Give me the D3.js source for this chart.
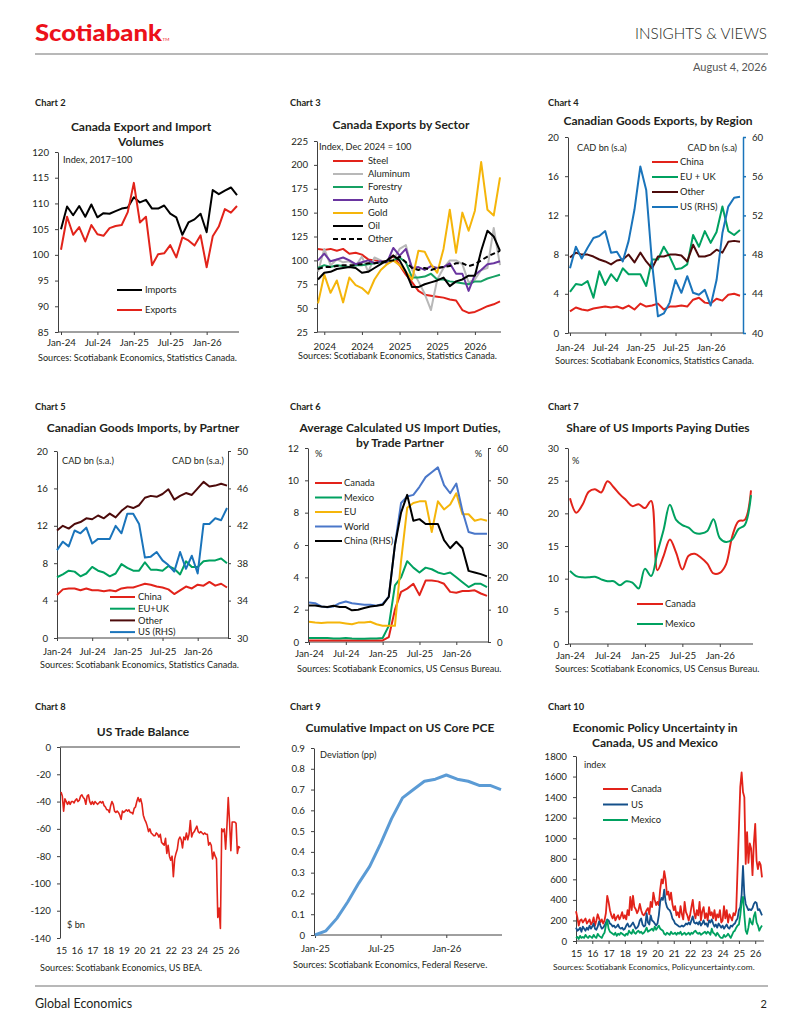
<!DOCTYPE html>
<html>
<head>
<meta charset="utf-8">
<script src="https://cdn.jsdelivr.net/npm/d3@7"></script>
<style>
body { margin: 0; background: #fff; }
text { font-family: Lato, "Open Sans", sans-serif; fill: #231f20; }
.axis text { font-size: 9.7px; }
.axis path, .axis line { stroke: #404040; }
</style>
</head>
<body>
<script>
// Data // ----------------------------------------------------------------------
// 30-month charts: Jan-24 .. Jun-26
var monthTicks = ["Jan-24", "Jul-24", "Jan-25", "Jul-25", "Jan-26"];
var yearTicks3 = ["2024", "2024", "2025", "2025", "2026"];

// Chart 2
var c2Imports = [105, 109.4, 107.7, 109.5, 107.4, 109.8, 107.3, 108.1, 108, 108.5, 109, 109.2, 111.2, 110.2, 110.7, 109, 109, 109.6, 108, 107.3, 103.9, 106.3, 106.9, 108, 104.4, 112.6, 111.8, 112.5, 113.1, 111.6];
var c2Exports = [101, 107.4, 103.9, 105.4, 102.6, 105.8, 104, 103.7, 105.2, 105.6, 105.8, 108.3, 114, 106.3, 107.4, 98, 100.1, 100.3, 101.9, 99.5, 103.4, 102.8, 101.8, 103.8, 97.6, 103.6, 105.5, 108.9, 108.2, 109.5];

// Chart 3 (Dec-23 .. May-26)
var c3Steel = [112, 111, 112, 110, 112, 107, 108, 106, 101, 100, 99, 99, 105, 95, 85, 77, 68, 64, 63, 62, 61, 59, 58, 48, 45, 46, 49, 52, 54, 57];
var c3Aluminum = [88, 112, 95, 101, 98, 99, 94, 104, 88, 103, 100, 96, 100, 112, 116, 90, 78, 65, 48, 80, 92, 100, 100, 96, 77, 80, 90, 92, 134, 95];
var c3Forestry = [92, 95, 93, 95, 94, 93, 95, 95, 96, 97, 98, 99, 100, 103, 98, 82, 82, 83, 86, 80, 80, 78, 77, 76, 75, 78, 78, 81, 83, 85];
var c3Auto = [100, 107, 99, 101, 103, 100, 96, 98, 100, 97, 99, 98, 113, 105, 112, 92, 93, 90, 94, 92, 93, 97, 86, 86, 68, 85, 90, 96, 97, 99];
var c3Gold = [55, 85, 66, 79, 56, 82, 74, 71, 65, 80, 90, 96, 100, 95, 88, 80, 110, 109, 96, 87, 112, 153, 108, 150, 131, 152, 203, 153, 147, 187];
var c3Oil = [80, 87, 88, 91, 92, 93, 92, 87, 88, 92, 96, 100, 105, 100, 88, 72, 72, 75, 77, 79, 82, 73, 78, 80, 84, 84, 110, 131, 125, 110];
var c3Other = [91, 93, 93, 94, 95, 95, 95, 96, 97, 97, 98, 99, 100, 104, 98, 92, 90, 92, 90, 92, 93, 94, 97, 97, 94, 96, 100, 104, 107, 110];

// Chart 4
var c4China = [2.2, 2.6, 2.4, 2.3, 2.5, 2.6, 2.7, 2.6, 2.7, 2.5, 2.8, 2.4, 3.0, 2.7, 2.8, 3.0, 2.4, 2.7, 2.7, 2.8, 2.7, 3.4, 3.6, 3.1, 3.0, 3.5, 3.3, 3.9, 4.0, 3.8];
var c4EUUK = [4.2, 5.0, 4.9, 5.3, 3.6, 6.3, 4.9, 6.0, 5.3, 6.6, 6.0, 6.0, 6.0, 4.8, 7.5, 7.5, 8.8, 7.8, 6.5, 6.6, 7.0, 10.0, 8.8, 10.4, 9.2, 10.3, 12.9, 10.4, 10.0, 10.5];
var c4Other = [7.7, 8.2, 8.0, 8.0, 7.8, 7.5, 7.3, 7.0, 7.4, 7.5, 8.0, 7.2, 8.2, 7.3, 6.6, 7.8, 7.8, 8.0, 8.0, 7.9, 7.3, 9.0, 7.8, 7.8, 8.0, 8.5, 8.2, 9.3, 9.4, 9.3];
var c4US = [46.6, 48.8, 47.6, 48.7, 49.7, 49.9, 50.4, 48.2, 48.3, 47.3, 49.4, 52.6, 57.0, 54.6, 47.1, 41.7, 42.0, 43.1, 45.4, 44.1, 45.8, 44.1, 43.9, 44.4, 42.8, 45.4, 50.2, 52.9, 53.8, 53.9];

// Chart 5
var c5China = [4.6, 5.2, 5.3, 5.3, 5.1, 5.3, 5.1, 5.1, 5.0, 5.1, 5.0, 5.3, 5.4, 5.4, 5.6, 5.8, 5.7, 5.5, 5.4, 5.2, 4.7, 5.1, 5.5, 5.3, 5.7, 5.6, 6.0, 5.6, 5.8, 5.4];
var c5EUUK = [6.5, 6.8, 7.2, 7.1, 6.6, 6.9, 7.6, 7.2, 7.0, 6.6, 6.9, 7.9, 7.5, 7.2, 7.2, 8.1, 7.3, 7.3, 7.2, 7.7, 7.4, 6.8, 8.2, 7.6, 7.6, 8.2, 8.3, 8.3, 8.5, 8.0];
var c5Other = [11.5, 12.0, 11.7, 12.2, 12.4, 12.8, 12.7, 13.1, 12.8, 13.3, 12.9, 13.6, 14.1, 13.9, 14.2, 15.0, 15.2, 15.1, 15.4, 15.9, 14.8, 15.2, 15.5, 15.3, 16.0, 16.7, 16.2, 16.3, 16.5, 16.3];
var c5US = [39.4, 40.3, 39.8, 41.5, 41.2, 41.8, 40.1, 40.6, 40.6, 40.6, 42.0, 41.2, 43.3, 43.3, 42.2, 38.6, 38.7, 39.2, 38.3, 37.8, 37.1, 39.2, 37.4, 38.8, 36.9, 42.2, 42.2, 42.8, 42.6, 43.9];

// Chart 6
var c6Canada = [0.1, 0.1, 0.1, 0.1, 0.1, 0.1, 0.1, 0.1, 0.1, 0.1, 0.1, 0.1, 0.1, 0.3, 2.0, 3.1, 3.3, 3.6, 2.9, 3.8, 3.8, 3.75, 3.6, 3.1, 3.05, 3.15, 3.15, 3.2, 3.0, 2.85];
var c6Mexico = [0.25, 0.25, 0.25, 0.25, 0.22, 0.22, 0.25, 0.22, 0.2, 0.2, 0.22, 0.22, 0.25, 1.0, 3.5, 4.0, 5.0, 4.6, 4.3, 4.6, 4.5, 4.3, 4.2, 4.3, 4.0, 3.7, 3.4, 3.6, 3.6, 3.4];
var c6EU = [1.25, 1.2, 1.18, 1.2, 1.2, 1.2, 1.15, 1.1, 1.2, 1.2, 1.25, 1.1, 1.0, 1.0, 1.0, 5.0, 8.3, 8.6, 8.7, 8.7, 6.8, 8.7, 8.2, 8.5, 9.2, 7.9, 7.9, 7.5, 7.6, 7.5];
var c6World = [2.45, 2.4, 2.2, 2.15, 2.2, 2.4, 2.5, 2.4, 2.35, 2.3, 2.3, 2.25, 2.35, 2.8, 6.0, 8.6, 9.0, 9.1, 9.6, 10.2, 10.5, 10.8, 9.7, 9.2, 9.8, 8.1, 6.8, 6.7, 6.7, 6.7];
var c6China = [11.3, 11.3, 11.0, 10.8, 11.2, 10.8, 10.8, 9.8, 10.0, 10.5, 11.0, 11.2, 11.5, 14, 30, 40, 45.5, 37.5, 38, 36.5, 36.5, 36.5, 31.5, 29, 31, 29, 22, 21.5, 21, 20.3];

// Chart 7
var c7Canada = [22.3, 20.1, 21.3, 23.3, 23.7, 23.2, 24.9, 24.0, 22.9, 22.0, 21.1, 21.4, 20.8, 21.9, 11.3, 13.5, 16.0, 14.0, 11.4, 13.5, 13.8, 13.2, 12.3, 10.8, 10.9, 12.2, 16.5, 18.8, 19.0, 23.5];
var c7Mexico = [11.2, 10.4, 10.2, 10.2, 10.3, 9.9, 9.6, 9.6, 9.0, 9.6, 9.4, 8.5, 11.5, 10.4, 14.0, 17.5, 21.3, 19.0, 18.2, 17.8, 17.0, 16.9, 17.3, 19.1, 16.2, 15.6, 16.0, 17.6, 18.2, 22.8];

// Charts 8 and 10: monthly, Jan-15 .. Jun-26
var yearLabels = ["15", "16", "17", "18", "19", "20", "21", "22", "23", "24", "25", "26"];
var c8Balance = [
  -33, -36, -47, -38, -40, -42, -40, -42, -40, -40, -41, -39,
  -38, -40, -39, -36, -35, -37, -38, -42, -36, -35, -40, -42,
  -40, -42, -40, -41, -42, -41, -40, -41, -40, -43, -44, -46,
  -46, -48, -43, -40, -42, -47, -48, -47, -48, -50, -53, -47,
  -48, -47, -46, -47, -46, -48, -48, -49, -45, -44, -40, -37,
  -40, -38, -42, -50, -53, -55, -58, -62, -60, -63, -64, -65,
  -65, -63, -64, -66, -64, -70, -71, -72, -67, -78, -72, -80,
  -83, -80, -95, -82, -78, -75, -68, -66, -68, -74, -66, -68,
  -63, -68, -64, -54, -66, -63, -62, -60, -58, -62, -63, -62,
  -63, -64, -63, -64, -64, -72, -70, -72, -82, -77, -80, -82,
  -125, -118, -133, -60, -62, -60, -75, -58, -37, -55, -76, -55,
  -55, -55, -56, -78, -73, -74];

// Chart 9: Jan-25 .. Jun-26
var c9Ticks = ["Jan-25", "Jul-25", "Jan-26"];
var c9Impact = [0, 0.02, 0.08, 0.16, 0.25, 0.33, 0.44, 0.56, 0.66, 0.70, 0.74, 0.75, 0.77, 0.75, 0.74, 0.72, 0.72, 0.70];

// Chart 10
var c10Canada = [
  290, 230, 150, 200, 210, 180, 200, 220, 170, 190, 210, 160,
  180, 230, 150, 200, 260, 220, 180, 210, 170, 200, 270, 440,
  380, 300, 250, 220, 260, 200, 230, 250, 210, 240, 280, 220,
  250, 210, 300, 250, 430, 300, 440, 330, 310, 270, 300, 360,
  300, 260, 250, 270, 300, 320, 260, 380, 330, 470, 400, 350,
  380, 350, 500, 600, 560, 680, 600, 450, 480, 400, 470, 360,
  300, 340, 250, 280, 230, 340, 260, 210, 380, 280, 250, 200,
  250, 330, 400, 280, 220, 300, 250, 380, 200, 290, 330, 220,
  270, 200, 330, 250, 280, 220, 300, 200, 260, 230, 300, 180,
  200, 340, 220, 300, 180, 260, 230, 200, 270, 250, 300, 700,
  1100, 1500, 1640, 1450, 1400, 750, 1060, 760, 950, 900, 640, 950,
  1140, 780, 700, 770, 740, 620];
var c10US = [
  130, 100, 110, 130, 90, 140, 120, 100, 130, 110, 150, 120,
  140, 170, 120, 110, 140, 190, 150, 120, 130, 150, 180, 210,
  200, 170, 160, 140, 150, 130, 140, 160, 130, 120, 130, 110,
  120, 150, 170, 140, 140, 160, 180, 150, 120, 130, 150, 200,
  220, 160, 140, 150, 270, 180, 160, 250, 200, 190, 170, 150,
  170, 250, 380, 420, 400, 500, 380, 330, 310, 300, 270, 220,
  200, 170, 160, 150, 140, 140, 150, 140, 150, 170, 160, 180,
  160, 200, 240, 180, 170, 180, 160, 190, 150, 170, 200, 160,
  170, 140, 200, 180, 210, 170, 140, 160, 130, 170, 150, 130,
  150, 120, 140, 160, 130, 120, 150, 140, 160, 170, 200, 220,
  300, 330, 450, 730, 450, 360, 330, 300, 310, 300, 320, 360,
  380, 370, 300, 310, 280, 250];
var c10Mexico = [
  30, 40, 20, 50, 30, 40, 30, 60, 40, 30, 50, 40,
  30, 60, 40, 30, 70, 50, 40, 30, 60, 80, 150, 200,
  120, 90, 80, 70, 60, 80, 50, 70, 60, 80, 70, 60,
  50, 70, 60, 100, 80, 70, 110, 80, 70, 90, 100, 80,
  90, 70, 80, 100, 130, 90, 100, 110, 120, 100, 140, 110,
  130, 150, 120, 110, 100, 70, 60, 80, 70, 60, 90, 70,
  70, 80, 60, 80, 70, 90, 60, 70, 80, 60, 70, 80,
  60, 80, 70, 90, 100, 80, 70, 80, 60, 70, 80, 90,
  70, 90, 80, 60, 120, 80, 70, 50, 80, 60, 40, 30,
  30, 60, 40, 50, 70, 50, 30, 60, 90, 100, 130, 150,
  160, 250, 380, 430, 250, 100, 70, 130, 220, 180, 160, 240,
  280, 180, 150, 100, 130, 150];

// Colours
var red = "#e2231a", green = "#00a160", maroon = "#4d0b0b", blue = "#1a74bb";

// Page // ----------------------------------------------------------------------
var svg = d3.select("body").append("svg")
            .attr("width", 800)
            .attr("height", 1035);

svg.append("rect").attr("width", 800).attr("height", 1035).attr("fill", "#fff");

// header
svg.append("text").attr("x", 35).attr("y", 41)
   .attr("font-size", 23).attr("font-weight", 900)
   .attr("textLength", 127).attr("lengthAdjust", "spacingAndGlyphs")
   .style("fill", "#ec111a").text("Scotiabank");
svg.append("text").attr("x", 162.5).attr("y", 41).attr("font-size", 4.5)
   .style("fill", "#ec111a").text("TM");
svg.append("text").attr("x", 767).attr("y", 39).attr("text-anchor", "end")
   .attr("font-size", 15).attr("font-weight", 300)
   .attr("textLength", 132).attr("lengthAdjust", "spacingAndGlyphs")
   .text("INSIGHTS & VIEWS");
svg.append("line").attr("x1", 35).attr("x2", 768).attr("y1", 54).attr("y2", 54)
   .attr("stroke", "#a0a0a0").attr("stroke-width", 1.5);
svg.append("text").attr("x", 767).attr("y", 71).attr("text-anchor", "end")
   .attr("font-size", 11).style("fill", "#555").text("August 4, 2026");

// footer
svg.append("line").attr("x1", 35).attr("x2", 768).attr("y1", 986).attr("y2", 986)
   .attr("stroke", "#a0a0a0").attr("stroke-width", 1.5);
svg.append("text").attr("x", 35).attr("y", 1008).attr("font-size", 12.5).text("Global Economics");
svg.append("text").attr("x", 767).attr("y", 1008).attr("text-anchor", "end").attr("font-size", 11).text("2");

// Chart builder // -------------------------------------------------------------
function drawChart(o) {
  var g = svg.append("g");
  var n = o.series[0].values.length;
  var x = d3.scaleLinear().domain([0, n - 1]).range([o.px0, o.px1]);
  var y = d3.scaleLinear().domain(o.yDomain).range([o.bottom, o.top]);
  var y2 = o.y2Domain ? d3.scaleLinear().domain(o.y2Domain).range([o.bottom, o.top]) : null;

  // chart number and title
  g.append("text").attr("x", o.labelX).attr("y", o.labelY)
   .attr("font-size", 9.3).attr("font-weight", 700).text(o.label);
  o.title.forEach(function(t, i) {
    g.append("text").attr("x", o.titleX).attr("y", o.titleY + i * 15)
     .attr("text-anchor", "middle").attr("font-size", 12).attr("font-weight", 700).text(t);
  });

  // left axis
  g.append("g").attr("class", "axis")
   .attr("transform", "translate(" + o.x0 + ",0)")
   .call(d3.axisLeft(y).tickValues(o.yTicks).tickFormat(o.yFmt || String)
           .tickSize(3).tickSizeOuter(0).tickPadding(6));

  // right axis
  if (y2) {
    var ra = g.append("g").attr("class", "axis")
      .attr("transform", "translate(" + o.x1 + ",0)")
      .call(d3.axisRight(y2).tickValues(o.y2Ticks).tickFormat(String)
              .tickSize(3).tickSizeOuter(0).tickPadding(6));
    if (o.y2Color) {
      ra.selectAll("path, line").style("stroke", o.y2Color).style("stroke-width", 1.5);
    }
  }

  // x axis: line at the crossing value, labels under the plot
  var xl = o.xCross !== undefined ? y(o.xCross) : o.bottom;
  g.append("line").attr("x1", o.x0).attr("x2", o.x1).attr("y1", xl).attr("y2", xl)
   .attr("stroke", "#404040");
  g.append("g").attr("class", "axis")
   .attr("transform", "translate(0," + o.bottom + ")")
   .call(d3.axisBottom(x).tickValues(o.xTickIdx)
           .tickFormat(function(d, i) { return o.xTickLabels[i]; })
           .tickSize(o.xCross !== undefined ? 0 : 3).tickPadding(o.xPad || 6))
   .call(function(s) { s.select(".domain").remove(); });

  // lines
  o.series.forEach(function(s) {
    var ys = s.right ? y2 : y;
    var line = d3.line()
                 .x(function(d, i) { return x(i); })
                 .y(function(d) { return ys(d); });
    if (s.curve) line.curve(s.curve);
    g.append("path").datum(s.values)
     .attr("d", line)
     .attr("fill", "none")
     .attr("stroke", s.color)
     .attr("stroke-width", s.width || 2)
     .attr("stroke-linejoin", "round")
     .attr("stroke-dasharray", s.dash || null);
  });

  // legend
  if (o.legend) {
    o.series.forEach(function(s, i) {
      var L = o.legend, ly = L.y + i * L.dy;
      g.append("line").attr("x1", L.x).attr("x2", L.x + L.len).attr("y1", ly).attr("y2", ly)
       .attr("stroke", s.color).attr("stroke-width", 2).attr("stroke-dasharray", s.dash || null);
      g.append("text").attr("x", L.x + L.len + (L.gap || 3)).attr("y", ly).attr("dy", "0.35em")
       .attr("font-size", 9.4).text(s.name);
    });
  }

  // unit notes
  (o.notes || []).forEach(function(t) {
    g.append("text").attr("x", t.x).attr("y", t.y).attr("text-anchor", t.anchor || "start")
     .attr("font-size", 9.2).text(t.text);
  });

  // source
  g.append("text").attr("x", o.srcX).attr("y", o.srcY)
   .attr("font-size", o.srcSize || 9.1).text(o.source);
}

var idx30 = [0, 6, 12, 18, 24];

// Chart 2
drawChart({
  label: "Chart 2", labelX: 35, labelY: 106,
  title: ["Canada Export and Import", "Volumes"], titleX: 141, titleY: 131,
  x0: 58, x1: 239, top: 152, bottom: 332, px0: 61, px1: 237,
  yDomain: [85, 120], yTicks: [85, 90, 95, 100, 105, 110, 115, 120],
  xTickIdx: idx30, xTickLabels: monthTicks, xPad: 4,
  series: [
    {name: "Imports", values: c2Imports, color: "#000"},
    {name: "Exports", values: c2Exports, color: red}
  ],
  legend: {x: 117, y: 290, dy: 20, len: 25, gap: 3},
  notes: [{text: "Index, 2017=100", x: 63, y: 163}],
  source: "Sources: Scotiabank Economics, Statistics Canada.", srcX: 38, srcY: 361
});

// Chart 3
drawChart({
  label: "Chart 3", labelX: 290, labelY: 106,
  title: ["Canada Exports by Sector"], titleX: 401, titleY: 129,
  x0: 317, x1: 501, top: 141, bottom: 332, px0: 318, px1: 500,
  yDomain: [25, 225], yTicks: [25, 50, 75, 100, 125, 150, 175, 200, 225],
  xTickIdx: [1, 7, 13, 19, 25], xTickLabels: yearTicks3, xPad: 8,
  series: [
    {name: "Steel", values: c3Steel, color: red},
    {name: "Aluminum", values: c3Aluminum, color: "#b8b8b8"},
    {name: "Forestry", values: c3Forestry, color: "#17a063"},
    {name: "Auto", values: c3Auto, color: "#6a35a0"},
    {name: "Gold", values: c3Gold, color: "#f5b50a"},
    {name: "Oil", values: c3Oil, color: "#000"},
    {name: "Other", values: c3Other, color: "#000", dash: "5,3"}
  ],
  legend: {x: 333, y: 161, dy: 13, len: 30, gap: 5},
  notes: [{text: "Index, Dec 2024 = 100", x: 319, y: 150}],
  source: "Sources: Scotiabank Economics, Statistics Canada.", srcX: 298, srcY: 359
});

// Chart 4
drawChart({
  label: "Chart 4", labelX: 548, labelY: 106,
  title: ["Canadian Goods Exports, by Region"], titleX: 658, titleY: 125,
  x0: 568, x1: 743, top: 137, bottom: 333, px0: 570, px1: 740,
  yDomain: [0, 20], yTicks: [0, 4, 8, 12, 16, 20],
  y2Domain: [40, 60], y2Ticks: [40, 44, 48, 52, 56, 60], y2Color: blue,
  xTickIdx: idx30, xTickLabels: monthTicks, xPad: 8,
  series: [
    {name: "China", values: c4China, color: red},
    {name: "EU + UK", values: c4EUUK, color: green},
    {name: "Other", values: c4Other, color: maroon},
    {name: "US (RHS)", values: c4US, color: blue, right: true}
  ],
  legend: {x: 652, y: 162, dy: 15, len: 26, gap: 2},
  notes: [{text: "CAD bn (s.a)", x: 577, y: 151},
          {text: "CAD bn (s.a)", x: 737, y: 151, anchor: "end"}],
  source: "Sources: Scotiabank Economics, Statistics Canada.", srcX: 555, srcY: 364
});

// Chart 5
drawChart({
  label: "Chart 5", labelX: 35, labelY: 410,
  title: ["Canadian Goods Imports, by Partner"], titleX: 143, titleY: 432,
  x0: 57, x1: 228, top: 451, bottom: 638, px0: 57, px1: 227,
  yDomain: [0, 20], yTicks: [0, 4, 8, 12, 16, 20],
  y2Domain: [30, 50], y2Ticks: [30, 34, 38, 42, 46, 50],
  xTickIdx: idx30, xTickLabels: monthTicks, xPad: 7,
  series: [
    {name: "China", values: c5China, color: red},
    {name: "EU+UK", values: c5EUUK, color: green},
    {name: "Other", values: c5Other, color: maroon},
    {name: "US (RHS)", values: c5US, color: blue, right: true}
  ],
  legend: {x: 110, y: 597, dy: 11.7, len: 25, gap: 3},
  notes: [{text: "CAD bn (s.a.)", x: 62, y: 464},
          {text: "CAD bn (s.a.)", x: 224, y: 464, anchor: "end"}],
  source: "Sources: Scotiabank Economics, Statistics Canada.", srcX: 40, srcY: 668
});

// Chart 6
drawChart({
  label: "Chart 6", labelX: 290, labelY: 410,
  title: ["Average Calculated US Import Duties,", "by Trade Partner"], titleX: 400, titleY: 432,
  x0: 308, x1: 488, top: 448, bottom: 642, px0: 309, px1: 487,
  yDomain: [0, 12], yTicks: [0, 2, 4, 6, 8, 10, 12],
  y2Domain: [0, 60], y2Ticks: [0, 10, 20, 30, 40, 50, 60],
  xTickIdx: idx30, xTickLabels: monthTicks, xPad: 5,
  series: [
    {name: "Canada", values: c6Canada, color: red},
    {name: "Mexico", values: c6Mexico, color: green},
    {name: "EU", values: c6EU, color: "#f5b50a"},
    {name: "World", values: c6World, color: "#4a77c9"},
    {name: "China (RHS)", values: c6China, color: "#000", right: true}
  ],
  legend: {x: 315, y: 483, dy: 14.5, len: 27, gap: 2},
  notes: [{text: "%", x: 315, y: 457}, {text: "%", x: 482, y: 457, anchor: "end"}],
  source: "Sources: Scotiabank Economics, US Census Bureau.", srcX: 297, srcY: 672
});

// Chart 7
drawChart({
  label: "Chart 7", labelX: 548, labelY: 410,
  title: ["Share of US Imports Paying Duties"], titleX: 658, titleY: 432,
  x0: 568, x1: 753, top: 448, bottom: 644, px0: 570, px1: 751,
  yDomain: [0, 30], yTicks: [0, 5, 10, 15, 20, 25, 30],
  xTickIdx: idx30, xTickLabels: monthTicks, xPad: 5,
  series: [
    {name: "Canada", values: c7Canada, color: red, curve: d3.curveCatmullRom},
    {name: "Mexico", values: c7Mexico, color: green, curve: d3.curveCatmullRom}
  ],
  legend: {x: 637, y: 604, dy: 20, len: 26, gap: 2},
  notes: [{text: "%", x: 572, y: 464}],
  source: "Sources: Scotiabank Economics, US Census Bureau.", srcX: 555, srcY: 672
});

var idxYears = d3.range(0, 133, 12);

// Chart 8
drawChart({
  label: "Chart 8", labelX: 35, labelY: 710,
  title: ["US Trade Balance"], titleX: 143, titleY: 736,
  x0: 60, x1: 240, top: 747, bottom: 938, px0: 61, px1: 240,
  yDomain: [-140, 0], yTicks: [-140, -120, -100, -80, -60, -40, -20, 0], xCross: 0,
  xTickIdx: idxYears, xTickLabels: yearLabels, xPad: 9,
  series: [{name: "Balance", values: c8Balance, color: red, width: 1.6}],
  notes: [{text: "$ bn", x: 67, y: 928}],
  source: "Sources: Scotiabank Economics, US BEA.", srcX: 40, srcY: 971
});

// Chart 9
drawChart({
  label: "Chart 9", labelX: 290, labelY: 710,
  title: ["Cumulative Impact on US Core PCE"], titleX: 400, titleY: 732,
  x0: 314, x1: 502, top: 748, bottom: 935, px0: 315, px1: 501,
  yDomain: [0, 0.9], yTicks: [0, 0.1, 0.2, 0.3, 0.4, 0.5, 0.6, 0.7, 0.8, 0.9],
  yFmt: function(d) { return d === 0 ? "0" : d3.format(".1f")(d); },
  xTickIdx: [0, 6, 12], xTickLabels: c9Ticks, xPad: 7,
  series: [{name: "Impact", values: c9Impact, color: "#5b9bd5", width: 3}],
  notes: [{text: "Deviation (pp)", x: 320, y: 758}],
  source: "Sources: Scotiabank Economics, Federal Reserve.", srcX: 293, srcY: 968
});

// Chart 10
drawChart({
  label: "Chart 10", labelX: 548, labelY: 710,
  title: ["Economic Policy Uncertainty in", "Canada, US and Mexico"], titleX: 655, titleY: 732,
  x0: 576, x1: 764, top: 756, bottom: 941, px0: 576, px1: 762,
  yDomain: [0, 1800], yTicks: d3.range(0, 1801, 200),
  xTickIdx: idxYears, xTickLabels: yearLabels, xPad: 6,
  series: [
    {name: "Canada", values: c10Canada, color: red, width: 1.8},
    {name: "US", values: c10US, color: "#14508a", width: 1.8},
    {name: "Mexico", values: c10Mexico, color: green, width: 1.8}
  ],
  legend: {x: 603, y: 789, dy: 15.5, len: 25, gap: 3},
  notes: [{text: "index", x: 584, y: 768}],
  source: "Sources: Scotiabank Economics, Policyuncertainty.com.", srcX: 553, srcY: 970, srcSize: 8.4
});
</script>
</body>
</html>
